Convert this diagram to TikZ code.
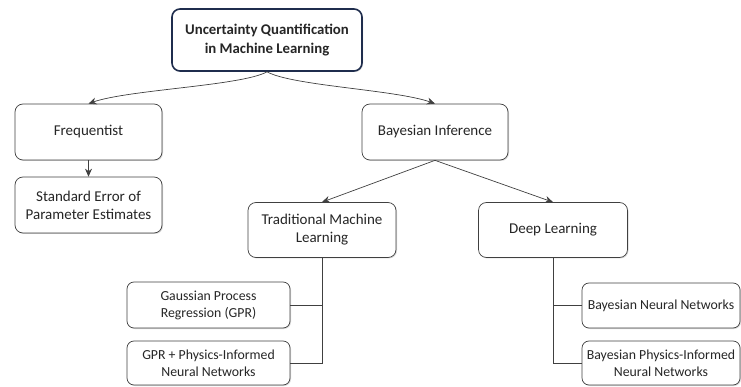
\documentclass[tikz,border=0pt]{standalone}
\usepackage{fontspec}
\setmainfont{Carlito}
\usepackage{tikz}
\usetikzlibrary{arrows.meta,shadows}

\definecolor{boxline}{HTML}{404040}
\definecolor{rootline}{HTML}{1F2D4D}
\definecolor{inktext}{HTML}{262626}

\begin{document}
\begin{tikzpicture}[x=1pt,y=-1pt,>={Stealth[length=8pt,width=7pt]},line width=0.7pt,draw=boxline,
                    box/.style={draw=boxline,fill=white,rounded corners=8pt,align=center,
                      text=inktext,inner sep=0pt,font=\fontsize{15}{18}\selectfont,
                      drop shadow={opacity=0.3,shadow xshift=1pt,shadow yshift=-1pt}},
                    leaf/.style={box,rounded corners=7pt,font=\fontsize{13.8}{17}\selectfont}]
  \useasboundingbox (0,0) rectangle (741,387);

  \node[box,draw=rootline,line width=1.6pt,font=\bfseries\fontsize{14.8}{19}\selectfont,
        minimum width=190pt,minimum height=62pt] (U) at (267,40)
        {Uncertainty Quantification\\in Machine Learning};
  \node[box,minimum width=147pt,minimum height=56pt] (F) at (88.5,132) {Frequentist};
  \node[box,minimum width=146pt,minimum height=56pt] (B) at (435,132) {Bayesian Inference};
  \node[box,minimum width=147pt,minimum height=56pt] (S) at (88.5,205)
        {Standard Error of\\Parameter Estimates};
  \node[box,minimum width=148pt,minimum height=55pt] (T) at (322,230)
        {Traditional Machine\\Learning};
  \node[box,minimum width=149pt,minimum height=55pt] (D) at (553,230) {Deep Learning};

  \node[leaf,minimum width=163pt,minimum height=46pt] (G) at (208.5,305)
        {Gaussian Process\\Regression (GPR)};
  \node[leaf,minimum width=163pt,minimum height=44pt] (P) at (208.5,363)
        {GPR + Physics-Informed\\Neural Networks};
  \node[leaf,minimum width=158pt,minimum height=45pt] (N) at (661,305.5)
        {Bayesian Neural Networks};
  \node[leaf,minimum width=158pt,minimum height=44pt] (Q) at (661,363)
        {Bayesian Physics-Informed\\Neural Networks};

  \draw[->] (U.south) .. controls +(-25,14) and +(40,-14) .. (F.north);
  \draw[->] (U.south) .. controls +(25,14) and +(-40,-14) .. (B.north);
  \draw[->] (F) -- (S);
  \draw[->] (B.south) -- (T.north);
  \draw[->] (B.south) -- (D.north);

  \draw (T.south) |- (G.east);
  \draw (T.south) |- (P.east);
  \draw (D.south) |- (N.west);
  \draw (D.south) |- (Q.west);
\end{tikzpicture}
\end{document}
